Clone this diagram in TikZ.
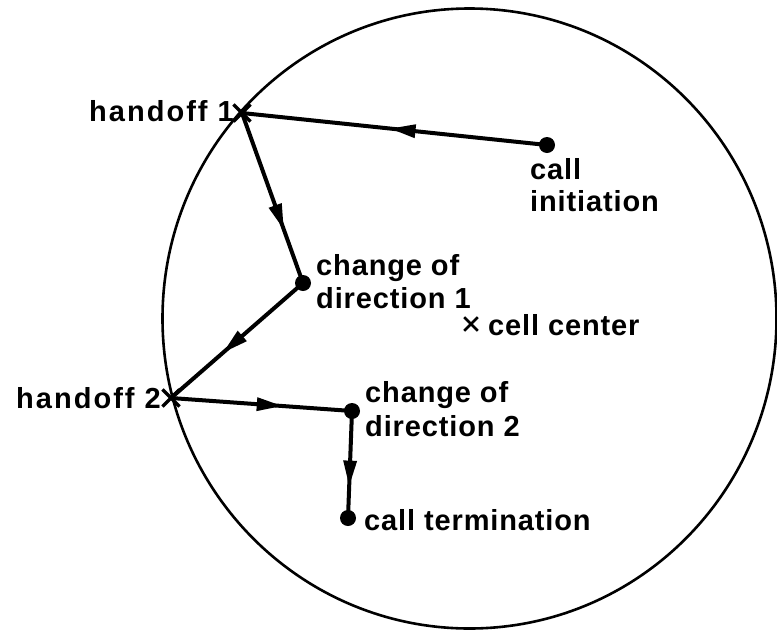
\documentclass[tikz,border=0pt]{standalone}
\usepackage{fontspec}
\setmainfont{Liberation Sans}[LetterSpace=3]
\usetikzlibrary{decorations.markings,shapes.misc}
\tikzset{
  lbl/.style={font=\fontsize{29}{32}\selectfont\bfseries, inner sep=0pt},
  widelbl/.style={lbl, font=\fontsize{29}{32}\selectfont\bfseries\addfontfeature{LetterSpace=7}},
  dotnode/.style={circle, fill=black, inner sep=0pt, minimum size=16pt},
  xmark/.style={cross out, draw=black, line width=3.2pt, inner sep=0pt, minimum size=14pt},
  xsmall/.style={cross out, draw=black, line width=2.6pt, inner sep=0pt, minimum size=11pt},
  track/.style={line width=4pt, line cap=round},
  arrowmid/.style={postaction={decorate}, decoration={markings,
     mark=at position #1 with {\fill[black] (4pt,0pt) -- (-21pt,7pt) -- (-21pt,-7pt) -- cycle;}}}
}
\begin{document}
\begin{tikzpicture}[x=1pt,y=-1pt]
\useasboundingbox (0,0) rectangle (777,630);
\fill[white] (0,0) rectangle (777,630);
% cell boundary
\draw[line width=2.6pt] (469.5,318.5) ellipse [x radius=307pt, y radius=310pt];
% points
\node[dotnode] (init) at (547,145) {};
\node[xmark] (h1) at (242,113) {};
\node[dotnode] (cd1) at (303,283) {};
\node[xmark] (h2) at (171,398) {};
\node[dotnode] (cd2) at (352,411) {};
\node[dotnode] (term) at (348,518) {};
\node[xsmall] (cc) at (471,324) {};
% track
\draw[track, arrowmid=0.5] (init.center) -- (h1.center);
\draw[track, arrowmid=0.66] (h1.center) -- (cd1.center);
\draw[track, arrowmid=0.58] (cd1.center) -- (h2.center);
\draw[track, arrowmid=0.59] (h2.center) -- (cd2.center);
\draw[track, arrowmid=0.66] (cd2.center) -- (term.center);
% labels
\node[widelbl, anchor=base east] (h1lbl) at (234,121) {handoff 1};
\node[lbl, anchor=base west] (initlbl1) at (530,179) {call};
\node[lbl, anchor=base west] (initlbl2) at (530,211) {initiation};
\node[lbl, anchor=base west] (cd1lbl1) at (316,275) {change of};
\node[lbl, anchor=base west] (cd1lbl2) at (316,308) {direction 1};
\node[lbl, anchor=base west] (cclbl) at (488,335) {cell center};
\node[widelbl, anchor=base east] (h2lbl) at (161,408) {handoff 2};
\node[lbl, anchor=base west] (cd2lbl1) at (365,402) {change of};
\node[lbl, anchor=base west] (cd2lbl2) at (365,436) {direction 2};
\node[lbl, anchor=base west] (termlbl) at (364,530) {call termination};
\end{tikzpicture}
\end{document}
